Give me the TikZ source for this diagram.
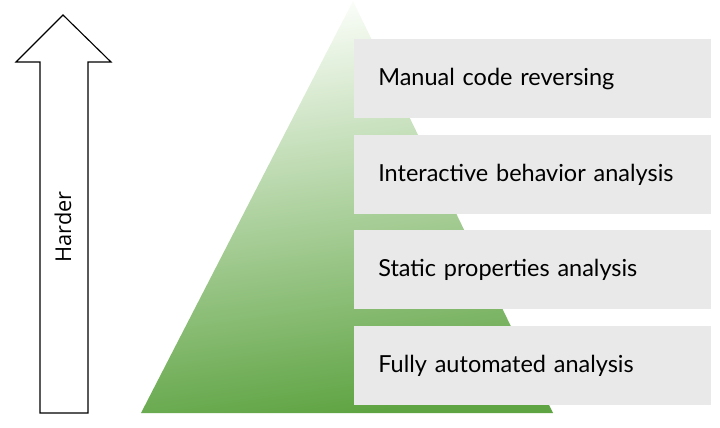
\documentclass[tikz,border=0pt]{standalone}
\usepackage{fontspec}
\setmainfont{Lato}
\newfontfamily\arrowfont{Open Sans}
\usepackage{tikz}
\usetikzlibrary{positioning}

\definecolor{boxgray}{HTML}{E9E9E9}
\definecolor{pyrtop}{HTML}{FBFEF9}
\definecolor{pyrmid}{HTML}{B6DCA6}
\definecolor{pyrbot}{HTML}{5FA443}

\tikzset{
  level/.style={fill=boxgray, minimum width=8.925cm, minimum height=1.975cm,
    text width=7.725cm, align=left, inner xsep=0.6cm, inner ysep=0pt,
    font=\fontsize{16.7}{20}\selectfont}
}

\begin{document}
\begin{tikzpicture}[x=0.025cm, y=-0.025cm]
  \useasboundingbox (0,0) rectangle (720,427);

  % pyramid
  \shade[top color=pyrtop, middle color=pyrmid, bottom color=pyrbot, shading angle=8]
    (141,413) -- (353,1) -- (553,413) -- cycle;

  \node[level, anchor=north west] (manual) at (354,39) {Manual code reversing};
  \node[level] (interactive) [below=0.4cm of manual] {Interactive behavior analysis};
  \node[level] (static) [below=0.4cm of interactive] {Static properties analysis};
  \node[level] (auto) [below=0.4cm of static] {Fully automated analysis};

  % arrow
  \draw[line width=0.8pt, fill=white] (63,15) -- (111,62) -- (88,62) -- (88,413)
    -- (40,413) -- (40,62) -- (16,62) -- cycle;
  \node[rotate=90, font=\arrowfont\fontsize{15.5}{18}\selectfont] (harder) at (63,227) {Harder};
\end{tikzpicture}
\end{document}
